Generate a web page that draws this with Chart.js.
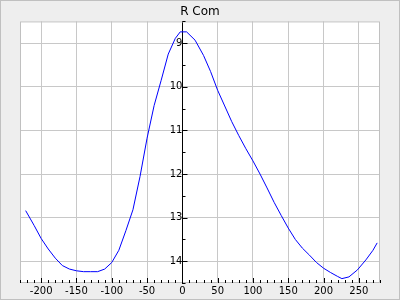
<!DOCTYPE html>
<html>
<head>
<meta charset="utf-8">
<script src="https://cdn.jsdelivr.net/npm/chart.js@4/dist/chart.umd.min.js"></script>
<style>
  html, body { margin: 0; padding: 0; }
  #wrap {
    position: relative; width: 400px; height: 300px;
    background: #eeeeee; box-shadow: inset 0 0 0 1px #c0c0c0;
  }
  canvas { position: absolute; left: 0; top: 0; }
</style>
</head>
<body>
<div id="wrap"><canvas id="chart" width="400" height="300"></canvas></div>
<script>
// angle values and R Com readings
const angles = [-222, -210, -200, -190, -180, -170, -160, -150, -140, -130, -120, -110, -100,
  -90, -80, -70, -60, -50, -40, -30, -20, -10, -3, 6, 18, 30, 40, 50, 60, 70, 80, 90, 100,
  110, 120, 130, 140, 150, 160, 170, 180, 190, 200, 210, 220, 226, 236, 248, 260, 270, 276];
const rcom = [12.84, 13.18, 13.48, 13.72, 13.93, 14.10, 14.18, 14.22, 14.24, 14.24, 14.24, 14.18, 14.03,
  13.75, 13.30, 12.82, 12.06, 11.18, 10.43, 9.85, 9.25, 8.89, 8.74, 8.74, 8.93, 9.28, 9.65, 10.08, 10.44,
  10.80, 11.12, 11.42, 11.70, 12.00, 12.32, 12.65, 12.95, 13.24, 13.50, 13.70, 13.86, 14.03, 14.16,
  14.26, 14.35, 14.40, 14.36, 14.20, 13.97, 13.75, 13.58];

const xMin = -230, xMax = 280, xMinor = 10, xMajor = 50;
const yMin = 8.5, yMax = 14.5, yMinor = 0.5, yMajor = 1;

const points = angles.map((a, i) => ({ x: a, y: rcom[i] }));
const isMajor = (v, step) => Math.abs(v / step - Math.round(v / step)) < 1e-6;
const font = { family: 'DejaVu Sans', size: 10 };

// white plot area, gray frame and inward tick marks
const frame = {
  id: 'frame',
  beforeDraw(chart) {
    const { ctx, chartArea: a } = chart;
    ctx.save();
    ctx.fillStyle = '#ffffff';
    ctx.fillRect(a.left, a.top, a.right - a.left, a.bottom - a.top);
    ctx.restore();
  },
  afterDatasetsDraw(chart) {
    const { ctx, chartArea: a, scales } = chart;
    ctx.save();
    ctx.strokeStyle = '#c0c0c0';
    ctx.lineWidth = 1;
    ctx.strokeRect(a.left + 0.5, a.top + 0.5, a.right - a.left - 1, a.bottom - a.top - 1);
    ctx.strokeStyle = '#000000';
    ctx.beginPath();
    scales.x.ticks.forEach(t => {
      const px = Math.round(scales.x.getPixelForValue(t.value)) + 0.5;
      const len = isMajor(t.value, xMajor) ? 5 : 3;
      ctx.moveTo(px, a.bottom);
      ctx.lineTo(px, a.bottom - len);
    });
    const y0 = Math.round(scales.x.getPixelForValue(0)) + 0.5;
    scales.y.ticks.forEach(t => {
      const py = Math.round(scales.y.getPixelForValue(t.value)) + 0.5;
      const len = isMajor(t.value, yMajor) ? 5 : 3;
      ctx.moveTo(y0, py);
      ctx.lineTo(y0 + len, py);
    });
    ctx.stroke();
    ctx.restore();
  }
};

new Chart(document.getElementById('chart'), {
  type: 'line',
  data: {
    datasets: [{
      data: points,
      borderColor: '#0000ff',
      borderWidth: 1,
      pointRadius: 0,
      tension: 0,
      fill: false
    }]
  },
  options: {
    responsive: false,
    animation: false,
    layout: { padding: { left: 20, right: 20, top: 0, bottom: 1 } },
    plugins: {
      legend: { display: false },
      tooltip: { enabled: false },
      title: {
        display: true,
        text: 'R Com',
        color: '#000000',
        font: { family: 'DejaVu Sans', size: 12, weight: 'normal' },
        padding: { top: 5, bottom: 2 }
      }
    },
    scales: {
      x: {
        type: 'linear',
        min: xMin, max: xMax,
        grid: {
          color: c => isMajor(c.tick.value, xMajor) && c.tick.value !== 0 ? '#c8c8c8' : 'rgba(0,0,0,0)',
          drawTicks: false
        },
        border: { display: false },
        ticks: {
          stepSize: xMinor,
          includeBounds: false,
          autoSkip: false,
          maxRotation: 0,
          padding: 2,
          color: '#000000',
          font: font,
          callback: v => isMajor(v, xMajor) ? String(v) : ''
        }
      },
      y: {
        type: 'linear',
        reverse: true,
        position: { x: 0 },
        min: yMin, max: yMax,
        grid: {
          color: c => isMajor(c.tick.value, yMajor) ? '#c8c8c8' : 'rgba(0,0,0,0)',
          drawTicks: false
        },
        border: { display: true, color: '#000000', width: 1 },
        ticks: {
          stepSize: yMinor,
          includeBounds: false,
          autoSkip: false,
          padding: 6,
          color: '#000000',
          font: font,
          callback: v => isMajor(v, yMajor) ? String(v) : ''
        }
      }
    }
  },
  plugins: [frame]
});
</script>
</body>
</html>
